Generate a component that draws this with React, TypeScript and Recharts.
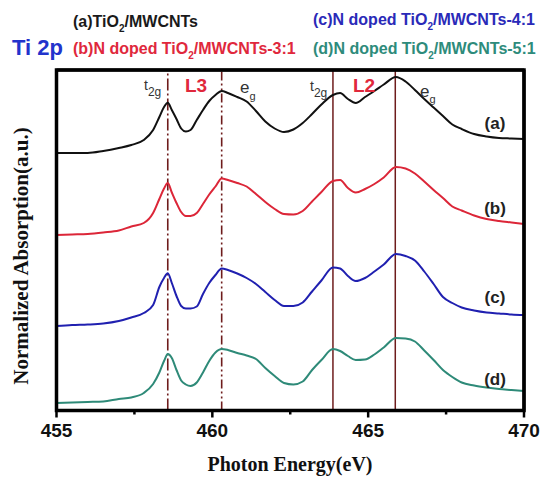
import { LineChart, Line, XAxis, YAxis, ReferenceLine } from "recharts"

const energy = [
  455, 455.5, 456, 456.5, 457, 457.4, 457.8, 458.1, 458.3, 458.45, 458.57, 458.7, 458.85, 459, 459.15, 459.3,
  459.5, 459.7, 459.9, 460.1, 460.3, 460.5, 460.8, 461.1, 461.4, 461.7, 462, 462.3, 462.6, 462.9, 463.2, 463.5,
  463.87, 464.1, 464.35, 464.6, 464.9, 465.2, 465.5, 465.89, 466.2, 466.5, 466.8, 467.1, 467.4, 467.7, 468, 468.4,
  468.8, 469.2, 469.6, 470,
]

// (a) TiO2/MWCNTs
const seriesA = [
  2.575, 2.575, 2.575, 2.595, 2.625, 2.655, 2.705, 2.805, 2.935, 3.035, 3.078, 3.005, 2.915, 2.82, 2.79, 2.805,
  2.905, 3.005, 3.095, 3.155, 3.195, 3.175, 3.135, 3.09, 2.995, 2.89, 2.82, 2.785, 2.81, 2.875, 2.965, 3.06,
  3.155, 3.175, 3.115, 3.075, 3.135, 3.195, 3.26, 3.335, 3.29, 3.205, 3.115, 3.03, 2.945, 2.86, 2.815, 2.765,
  2.74, 2.725, 2.72, 2.715,
]
// (b) N doped 3:1
const seriesB = [
  1.755, 1.76, 1.765, 1.78, 1.8, 1.84, 1.875, 1.975, 2.115, 2.22, 2.275, 2.18, 2.075, 1.985, 1.945, 1.945,
  1.975, 2.065, 2.16, 2.24, 2.32, 2.305, 2.275, 2.24, 2.165, 2.085, 2.015, 1.965, 1.96, 1.995, 2.09, 2.185,
  2.295, 2.305, 2.225, 2.18, 2.215, 2.265, 2.33, 2.435, 2.42, 2.37, 2.29, 2.205, 2.125, 2.04, 2.0, 1.95,
  1.915, 1.895, 1.88, 1.865,
]
// (c) N doped 4:1
const seriesC = [
  0.845, 0.855, 0.86, 0.87, 0.895, 0.93, 0.975, 1.055, 1.235, 1.325, 1.372, 1.275, 1.145, 1.045, 1.02, 1.02,
  1.04, 1.165, 1.275, 1.355, 1.42, 1.405, 1.37, 1.325, 1.265, 1.185, 1.105, 1.045, 1.045, 1.08, 1.19, 1.3,
  1.43, 1.42, 1.345, 1.295, 1.325, 1.39, 1.46, 1.565, 1.545, 1.5, 1.39, 1.265, 1.135, 1.075, 1.03, 1.0,
  0.98, 0.97, 0.96, 0.955,
]
// (d) N doped 5:1
const seriesD = [
  0.075, 0.08, 0.085, 0.09, 0.115, 0.13, 0.175, 0.265, 0.38, 0.495, 0.565, 0.525, 0.405, 0.3, 0.26, 0.245,
  0.28, 0.38, 0.495, 0.58, 0.615, 0.605, 0.575, 0.55, 0.515, 0.425, 0.345, 0.275, 0.26, 0.29, 0.405, 0.505,
  0.615, 0.595, 0.545, 0.505, 0.51, 0.56, 0.63, 0.725, 0.72, 0.69, 0.6, 0.505, 0.405, 0.335, 0.28, 0.25,
  0.23, 0.215, 0.205, 0.195,
]

const xTicks = [455, 457.5, 460, 462.5, 465, 467.5, 470]
const dashedEdges = [458.57, 460.3]
const solidEdges = [463.87, 465.87]
const X_MIN = 455
const X_MAX = 470
const Y_MAX = 3.405

const data = energy.map((e, i) => ({ e, a: seriesA[i], b: seriesB[i], c: seriesC[i], d: seriesD[i] }))

const SANS = "'Liberation Sans', Arial, sans-serif"
const SERIF = "'Liberation Serif', 'Times New Roman', serif"
const EDGE = "#6e1c1c"
const FRAME = "#000"

// plot box (chart margins)
const BOX = { left: 56.5, top: 70, right: 524, bottom: 410.5 }

function XTick(props: any) {
  const { x, y, payload } = props
  const major = payload.value % 5 === 0
  return (
    <g>
      <line x1={x} x2={x} y1={y} y2={y + (major ? 7 : 4)} stroke="#000" strokeWidth={2.5} />
      {major && (
        <text x={x} y={y + 26.5} textAnchor="middle" fontFamily={SANS} fontWeight="bold" fontSize={19} fill="#111">
          {payload.value}
        </text>
      )}
    </g>
  )
}

function Sample({ x, y, color, head, tail }: { x: number; y: number; color: string; head: string; tail: string }) {
  return (
    <text x={x} y={y} fill={color} fontFamily={SANS} fontWeight="bold" fontSize={16}>
      {head}
      <tspan dy={5} fontSize={10}>2</tspan>
      <tspan dy={-5}>{tail}</tspan>
    </text>
  )
}

function Sub({ x, y, main, sub, size, subSize, drop }: any) {
  return (
    <text x={x} y={y} fill="#333" fontFamily={SANS} fontSize={size}>
      {main}
      <tspan dy={drop} fontSize={subSize}>{sub}</tspan>
    </text>
  )
}

export default function App() {
  const { left, top, right, bottom } = BOX
  const framePath = `M${left},${top} L${right},${top} L${right},${bottom} L${left},${bottom} Z`
  return (
    <div style={{ position: "absolute", left: 0, top: 0, width: 543, height: 477, background: "#fff" }}>
      <LineChart width={543} height={477} data={data} margin={{ top, right: 543 - right, bottom: 0, left }}>
        <XAxis
          dataKey="e"
          type="number"
          domain={[X_MIN, X_MAX]}
          ticks={xTicks}
          interval={0}
          height={477 - bottom}
          tickSize={0}
          tickMargin={0}
          tickLine={false}
          tick={<XTick />}
          axisLine={{ stroke: FRAME, strokeWidth: 3 }}
        />
        <YAxis domain={[0, Y_MAX]} width={0} tick={false} tickLine={false} axisLine={false} />
        <ReferenceLine x={dashedEdges[0]} stroke={EDGE} strokeWidth={1.6} strokeDasharray="12 3 2 3" />
        <ReferenceLine x={dashedEdges[1]} stroke={EDGE} strokeWidth={1.6} strokeDasharray="9 3 2 3 2 3" />
        {solidEdges.map((v) => (
          <ReferenceLine key={v} x={v} stroke={EDGE} strokeWidth={1.5} />
        ))}
        <Line type="monotone" dataKey="a" stroke="#111" strokeWidth={2} dot={false} isAnimationActive={false} />
        <Line type="monotone" dataKey="b" stroke="#dc2638" strokeWidth={2} dot={false} isAnimationActive={false} />
        <Line type="monotone" dataKey="c" stroke="#2020b0" strokeWidth={2} dot={false} isAnimationActive={false} />
        <Line type="monotone" dataKey="d" stroke="#2e8a78" strokeWidth={2} dot={false} isAnimationActive={false} />
        <ReferenceLine x={X_MIN} stroke={FRAME} strokeWidth={3} />
        <ReferenceLine x={X_MAX} stroke={FRAME} strokeWidth={3} />
        <ReferenceLine y={Y_MAX} stroke={FRAME} strokeWidth={3} />
        <ReferenceLine y={0} stroke={FRAME} strokeWidth={3} />
      </LineChart>

      <svg width={543} height={477} style={{ position: "absolute", left: 0, top: 0, pointerEvents: "none" }}>
        <path d={framePath} fill="none" stroke={FRAME} strokeWidth={3.5} />

        <text x={12} y={55} fill="#2233cc" fontFamily={SANS} fontWeight="bold" fontSize={22}>Ti 2p</text>
        <Sample x={73} y={27} color="#1a1a1a" head="(a)TiO" tail="/MWCNTs" />
        <Sample x={73} y={54} color="#e0283c" head="(b)N doped TiO" tail="/MWCNTs-3:1" />
        <Sample x={313} y={25} color="#2a2ab8" head="(c)N doped TiO" tail="/MWCNTs-4:1" />
        <Sample x={313} y={54} color="#2e8b7b" head="(d)N doped TiO" tail="/MWCNTs-5:1" />

        <Sub x={144} y={90} main="t" sub="2g" size={14} subSize={12} drop={6} />
        <Sub x={310} y={91} main="t" sub="2g" size={14} subSize={12} drop={6} />
        <Sub x={240} y={93} main="e" sub="g" size={17} subSize={11} drop={7} />
        <Sub x={420} y={97} main="e" sub="g" size={17} subSize={11} drop={6} />
        <text x={185} y={92} fill="#e0283c" fontFamily={SANS} fontWeight="bold" fontSize={19}>L3</text>
        <text x={353} y={92} fill="#e0283c" fontFamily={SANS} fontWeight="bold" fontSize={19}>L2</text>

        {[["(a)", 129], ["(b)", 214], ["(c)", 303], ["(d)", 384.5]].map(([t, y]) => (
          <text key={t as string} x={495} y={y as number} textAnchor="middle" fill="#222" fontFamily={SANS} fontWeight="bold" fontSize={17}>
            {t}
          </text>
        ))}

        <text
          transform="translate(28,256) rotate(-90)"
          textAnchor="middle"
          fill="#111"
          fontFamily={SERIF}
          fontWeight="bold"
          fontSize={21}
        >
          Normalized Absorption(a.u.)
        </text>
        <text x={290} y={471} textAnchor="middle" fill="#111" fontFamily={SERIF} fontWeight="bold" fontSize={20}>
          Photon Energy(eV)
        </text>
      </svg>
    </div>
  )
}
